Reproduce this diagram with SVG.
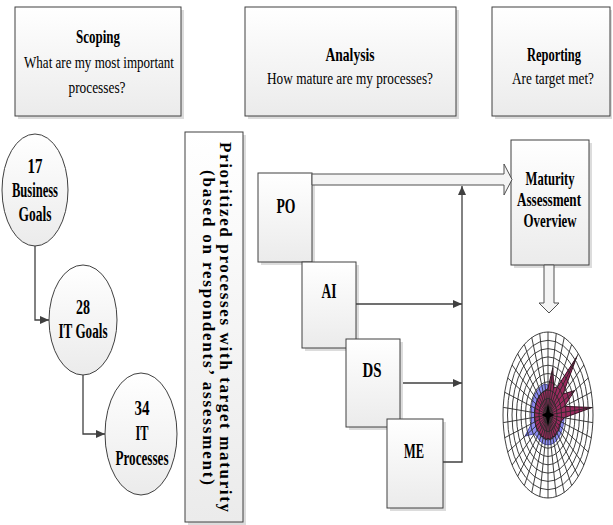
<svg xmlns="http://www.w3.org/2000/svg" width="613" height="525" viewBox="0 0 613 525">
<defs>
<linearGradient id="g" x1="0" y1="0" x2="0" y2="1"><stop offset="0" stop-color="#ffffff"/><stop offset="1" stop-color="#ebebeb"/></linearGradient>
<marker id="ah" viewBox="0 0 9 8" refX="9" refY="4" markerWidth="9" markerHeight="8" markerUnits="userSpaceOnUse" orient="auto"><path d="M0,0L9,4L0,8z" fill="#404040"/></marker>
</defs>
<style>
.box{fill:url(#g);stroke:#404040;stroke-width:1}
.sh{fill:#dcdcdc}
.t{font-family:"Liberation Serif","Times New Roman",serif;fill:#000;text-anchor:middle}
.b{font-weight:bold}
.c{stroke:#404040;stroke-width:1.3;fill:none}
.ha{fill:#f4f4f4;stroke:#505050;stroke-width:1}
.ring{fill:none;stroke:#2a2a2a;stroke-width:0.9}
</style>
<rect width="613" height="525" fill="#ffffff"/>

<g id="scoping">
<rect class="sh" x="18" y="10" width="166" height="109"/>
<rect class="box" x="15" y="7" width="166" height="109"/>
<text class="t b" x="98" y="43" font-size="19" textLength="44" lengthAdjust="spacingAndGlyphs">Scoping</text>
<text class="t" x="99" y="68" font-size="17" textLength="150" lengthAdjust="spacingAndGlyphs">What are my most important</text>
<text class="t" x="97" y="93" font-size="17" textLength="57" lengthAdjust="spacingAndGlyphs">processes?</text>
</g>
<g id="analysis">
<rect class="sh" x="248" y="10" width="211" height="109"/>
<rect class="box" x="245" y="7" width="211" height="109"/>
<text class="t b" x="350" y="61" font-size="19" textLength="49" lengthAdjust="spacingAndGlyphs">Analysis</text>
<text class="t" x="350" y="84" font-size="17" textLength="166" lengthAdjust="spacingAndGlyphs">How mature are my processes?</text>
</g>
<g id="reporting">
<rect class="sh" x="495" y="10" width="117" height="109"/>
<rect class="box" x="492" y="7" width="118" height="109"/>
<text class="t b" x="554" y="61" font-size="19" textLength="54" lengthAdjust="spacingAndGlyphs">Reporting</text>
<text class="t" x="553" y="84" font-size="16" textLength="82" lengthAdjust="spacingAndGlyphs">Are target met?</text>
</g>

<g id="business-goals">
<ellipse class="box" cx="35" cy="190" rx="33" ry="56"/>
<text class="t b" x="35" y="173" font-size="20" textLength="15" lengthAdjust="spacingAndGlyphs">17</text>
<text class="t b" x="35" y="197" font-size="20" textLength="46" lengthAdjust="spacingAndGlyphs">Business</text>
<text class="t b" x="35" y="221" font-size="20" textLength="33" lengthAdjust="spacingAndGlyphs">Goals</text>
</g>
<g id="it-goals">
<ellipse class="box" cx="83" cy="320" rx="34" ry="55"/>
<text class="t b" x="83" y="314" font-size="20" textLength="14" lengthAdjust="spacingAndGlyphs">28</text>
<text class="t b" x="83" y="338" font-size="20" textLength="49" lengthAdjust="spacingAndGlyphs">IT Goals</text>
</g>
<g id="it-processes">
<ellipse class="box" cx="141" cy="434" rx="36" ry="61"/>
<text class="t b" x="142" y="415" font-size="20" textLength="15" lengthAdjust="spacingAndGlyphs">34</text>
<text class="t b" x="142" y="440" font-size="20" textLength="13" lengthAdjust="spacingAndGlyphs">IT</text>
<text class="t b" x="142" y="465" font-size="20" textLength="53" lengthAdjust="spacingAndGlyphs">Processes</text>
</g>

<g id="prioritized">
<rect class="sh" x="188" y="135" width="58" height="390"/>
<rect class="box" x="185" y="132" width="58" height="390"/>
<text class="t b" font-size="17" transform="translate(220,327) rotate(90)" textLength="370" lengthAdjust="spacing">Prioritized processes with target maturity</text>
<text class="t b" font-size="17" transform="translate(203,327.5) rotate(90)" textLength="315" lengthAdjust="spacing">(based on respondents’ assessment)</text>
</g>

<g id="po">
<rect class="sh" x="261" y="176" width="54" height="89"/>
<rect class="box" x="258" y="173" width="54" height="89"/>
<text class="t b" x="286" y="213" font-size="20" textLength="19" lengthAdjust="spacingAndGlyphs">PO</text>
</g>
<g id="ai">
<rect class="sh" x="305" y="265" width="54" height="86"/>
<rect class="box" x="302" y="262" width="54" height="86"/>
<text class="t b" x="329" y="298" font-size="20" textLength="15" lengthAdjust="spacingAndGlyphs">AI</text>
</g>
<g id="ds">
<rect class="sh" x="349" y="342" width="54" height="88"/>
<rect class="box" x="346" y="339" width="54" height="88"/>
<text class="t b" x="372" y="377" font-size="20" textLength="19" lengthAdjust="spacingAndGlyphs">DS</text>
</g>
<g id="me">
<rect class="sh" x="390" y="422" width="56" height="89"/>
<rect class="box" x="387" y="419" width="56" height="89"/>
<text class="t b" x="414" y="458" font-size="20" textLength="20" lengthAdjust="spacingAndGlyphs">ME</text>
</g>
<g id="maturity">
<rect class="sh" x="514" y="143" width="78" height="125"/>
<rect class="box" x="511" y="140" width="78" height="125"/>
<text class="t b" x="550" y="185" font-size="19" textLength="49" lengthAdjust="spacingAndGlyphs">Maturity</text>
<text class="t b" x="549" y="206" font-size="19" textLength="64" lengthAdjust="spacingAndGlyphs">Assessment</text>
<text class="t b" x="550" y="227" font-size="19" textLength="53" lengthAdjust="spacingAndGlyphs">Overview</text>
</g>

<g id="connectors">
<path class="c" d="M35,246V320H49" marker-end="url(#ah)"/>
<path class="c" d="M83,375V434H105" marker-end="url(#ah)"/>
<path class="c" d="M356,304H462" marker-end="url(#ah)"/>
<path class="c" d="M403,383H462" marker-end="url(#ah)"/>
<path class="c" d="M443,462H462V186" marker-end="url(#ah)"/>
<polygon class="ha" points="312,174 504,174 504,164 512,179.5 504,195 504,185 312,185"/>
<polygon class="ha" points="544,265 544,303 539,303 549,313 559,303 554,303 554,265"/>
</g>

<g id="radar-chart" transform="translate(548,415) scale(0.45,0.83)">
<polygon fill="#8c8cf0" stroke="#5050b0" stroke-width="1" vector-effect="non-scaling-stroke" points="0,-36 6.6,-35.4 13,-33.6 19,-30.6 24.3,-26.6 28.7,-21.7 32.2,-16 34.6,-9.9 35.8,-3.3 35.8,3.3 34.6,9.9 32.2,16 28.7,21.7 24.3,26.6 19,30.6 13,33.6 6.6,35.4 0,36 -6.6,35.4 -13,33.6 -19,30.6 -24.3,26.6 -30,22.6 -51,25.4 -36.5,10.4 -36.8,3.4 -36.8,-3.4 -36.5,-10.4 -34,-16.9 -30.3,-22.9 -25.6,-28.1 -20,-32.3 -13.7,-35.4 -7,-37.3"/>
<polygon fill="#9a2a5e" stroke="#3a0a20" stroke-width="1" vector-effect="non-scaling-stroke" points="0,-32 10.7,-57 12.6,-32.6 21.1,-34 64,-70.2 33.5,-25.3 59.1,-29.4 36.5,-10.4 97.6,-9 35.8,3.3 28.9,8.2 25.1,12.5 23.9,18.1 18.9,20.7 15.8,25.5 10.1,26.1 5.5,29.5 0,28 -5.5,29.5 -10.1,26.1 -15.8,25.5 -18.9,20.7 -23.9,18.1 -26.9,13.4 -28.9,8.2 -29.9,2.8 -29.9,-2.8 -28.9,-8.2 -26.9,-13.4 -23.9,-18.1 -20.2,-22.2 -15.8,-25.5 -10.8,-28 -5.5,-29.5"/>
<g class="ring">
<ellipse rx="10" ry="10" vector-effect="non-scaling-stroke"/>
<ellipse rx="20" ry="20" vector-effect="non-scaling-stroke"/>
<ellipse rx="30" ry="30" vector-effect="non-scaling-stroke"/>
<ellipse rx="40" ry="40" vector-effect="non-scaling-stroke"/>
<ellipse rx="50" ry="50" vector-effect="non-scaling-stroke"/>
<ellipse rx="60" ry="60" vector-effect="non-scaling-stroke"/>
<ellipse rx="70" ry="70" vector-effect="non-scaling-stroke"/>
<ellipse rx="80" ry="80" vector-effect="non-scaling-stroke"/>
<ellipse rx="90" ry="90" vector-effect="non-scaling-stroke"/>
<ellipse rx="100" ry="100" vector-effect="non-scaling-stroke"/>
<path vector-effect="non-scaling-stroke" d="M0,-100L0,100M18.4,-98.3L-18.4,98.3M36.1,-93.3L-36.1,93.3M52.6,-85L-52.6,85M67.4,-73.9L-67.4,73.9M79.8,-60.3L-79.8,60.3M89.5,-44.6L-89.5,44.6M96.2,-27.4L-96.2,27.4M99.6,-9.2L-99.6,9.2M99.6,9.2L-99.6,-9.2M96.2,27.4L-96.2,-27.4M89.5,44.6L-89.5,-44.6M79.8,60.3L-79.8,-60.3M67.4,73.9L-67.4,-73.9M52.6,85L-52.6,-85M36.1,93.3L-36.1,-93.3M18.4,98.3L-18.4,-98.3"/>
</g>
<polygon fill="#000" points="0,-14 4,-3 14,0 4,3 0,14 -4,3 -14,0 -4,-3"/>
</g>
</svg>
